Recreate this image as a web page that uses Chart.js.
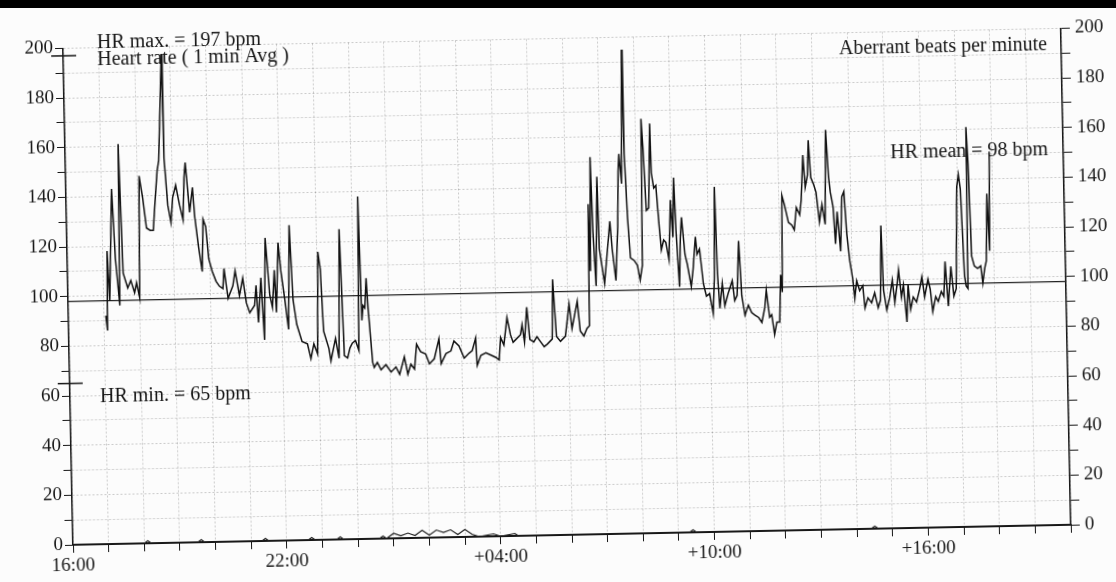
<!DOCTYPE html>
<html>
<head>
<meta charset="utf-8">
<script src="https://cdn.jsdelivr.net/npm/chart.js@4.4.0/dist/chart.umd.min.js"></script>
<style>
  html, body { margin: 0; padding: 0; width: 1116px; height: 582px; overflow: hidden; background: #fcfcfc; }
  #chart { position: absolute; left: -32px; top: -29px; background: #fcfcfc; transform: rotate(-1.15deg); }
  .scan-edge { position: absolute; left: 0; top: 0; width: 1116px; height: 8px; background: #000; z-index: 2; }
</style>
</head>
<body>
<div class="scan-edge"></div>
<canvas id="chart" width="1180" height="640"></canvas>
<script>
// hours after 16:00, heart rate (1 min avg) in bpm
const eveningHours = [1.05, 1.09, 1.12, 1.17, 1.28, 1.35, 1.45, 1.49, 1.56, 1.68, 1.77, 1.87, 1.93, 2.01, 2.06, 2.15, 2.24, 2.34, 2.43, 2.48, 2.57, 2.62, 2.75, 2.77, 2.85, 2.93, 2.99, 3.08, 3.18, 3.27, 3.32, 3.36, 3.46, 3.55, 3.60, 3.69, 3.78, 3.83, 3.90, 3.97, 4.06, 4.16, 4.25, 4.35, 4.39, 4.49, 4.63, 4.70, 4.81, 4.91, 5.00, 5.09, 5.23, 5.28, 5.33, 5.42, 5.49, 5.56, 5.66, 5.73, 5.80, 5.84, 5.92, 5.98, 6.08, 6.17, 6.24, 6.31, 6.40, 6.54, 6.69, 6.78, 6.87, 6.97, 7.03, 7.09, 7.15, 7.29, 7.34, 7.48, 7.57, 7.64, 7.68, 7.72, 7.81, 7.88, 7.95, 8.04, 8.13, 8.18, 8.23, 8.27, 8.32, 8.37, 8.41];
const eveningHr = [92, 86, 118, 98, 143, 115, 96, 161, 109, 103, 106, 101, 105, 99, 148, 139, 127, 126, 126, 135, 150, 154, 197, 155, 136, 129, 139, 144, 136, 130, 147, 153, 133, 143, 131, 119, 109, 130, 127, 114, 109, 105, 103, 102, 110, 98, 103, 109, 99, 106, 96, 92, 95, 103, 88, 106, 81, 122, 99, 94, 109, 92, 120, 109, 97, 85, 127, 97, 87, 80, 79, 73, 79, 75, 116, 109, 84, 77, 72, 81, 73, 125, 99, 74, 73, 77, 79, 80, 76, 138, 88, 94, 93, 105, 93];

const nightHours = [8.51, 8.55, 8.64, 8.74, 8.88, 9.02, 9.16, 9.26, 9.40, 9.49, 9.58, 9.68, 9.75, 9.86, 10.00, 10.10, 10.24, 10.38, 10.43, 10.57, 10.71, 10.80, 10.94, 11.08, 11.22, 11.31, 11.41, 11.44, 11.55, 11.69, 11.83, 11.97, 12.06, 12.11, 12.20, 12.30, 12.39, 12.46, 12.53, 12.67, 12.72, 12.78, 12.86, 12.93, 13.04, 13.13, 13.23, 13.33, 13.42, 13.56, 13.60, 13.68, 13.79, 13.93, 14.05, 14.12, 14.28, 14.35, 14.45, 14.54, 14.61];
const nightHr = [71, 69, 71, 68, 70, 67, 69, 66, 73, 66, 70, 68, 78, 75, 74, 70, 72, 80, 70, 74, 75, 79, 77, 72, 74, 75, 80, 69, 73, 74, 73, 72, 71, 80, 77, 88, 81, 78, 79, 81, 85, 78, 92, 79, 78, 80, 78, 76, 77, 79, 103, 80, 78, 80, 93, 83, 94, 82, 80, 83, 84];

const morningHours = [14.64, 14.67, 14.72, 14.76, 14.82, 14.90, 14.93, 15.06, 15.24, 15.29, 15.38, 15.46, 15.50, 15.53, 15.59, 15.66, 15.68, 15.74, 15.80, 15.90, 15.99, 16.06, 16.13, 16.17, 16.21, 16.27, 16.34, 16.41, 16.43, 16.49, 16.55, 16.62, 16.67, 16.74, 16.80, 16.88, 16.95, 17.00, 17.05, 17.09, 17.16, 17.21, 17.25, 17.33, 17.39, 17.49, 17.55, 17.63, 17.67, 17.74, 17.83, 17.91, 18.00, 18.09, 18.14, 18.19, 18.23, 18.28, 18.36, 18.42, 18.52, 18.64, 18.70, 18.77, 18.84, 18.90, 18.98, 19.08, 19.17, 19.26, 19.36, 19.45, 19.54, 19.59, 19.67, 19.73, 19.80, 19.87, 19.95, 20.00, 20.04, 20.08];
const morningHr = [133, 106, 152, 122, 100, 144, 115, 101, 126, 115, 102, 124, 146, 153, 141, 195, 153, 127, 111, 110, 108, 102, 108, 167, 155, 130, 131, 165, 145, 139, 140, 124, 114, 118, 117, 110, 134, 119, 143, 122, 99, 119, 127, 112, 108, 99, 106, 119, 112, 114, 100, 95, 96, 88, 102, 139, 104, 90, 100, 91, 96, 101, 93, 95, 117, 95, 87, 91, 88, 87, 86, 84, 90, 97, 86, 87, 79, 84, 84, 103, 96, 135];

const afternoonHours = [20.15, 20.25, 20.34, 20.41, 20.48, 20.57, 20.62, 20.69, 20.74, 20.81, 20.85, 20.90, 20.98, 21.04, 21.12, 21.20, 21.28, 21.34, 21.40, 21.44, 21.51, 21.56, 21.62, 21.70, 21.76, 21.82, 21.88, 21.95, 22.02, 22.07, 22.13, 22.21, 22.30, 22.35, 22.44, 22.54, 22.63, 22.72, 22.79, 22.84, 22.88, 22.96, 23.05, 23.13, 23.19, 23.26, 23.31, 23.38, 23.44, 23.52, 23.57, 23.63, 23.71, 23.80, 23.89, 23.96, 24.03, 24.13, 24.19, 24.25, 24.34, 24.41, 24.50, 24.57, 24.62, 24.69, 24.78, 24.85, 24.92, 24.99, 25.04, 25.09, 25.16, 25.20, 25.25, 25.28, 25.32, 25.37, 25.44, 25.53, 25.62, 25.67, 25.73, 25.78, 25.83, 25.88, 25.92];
const afternoonHr = [131, 124, 123, 121, 130, 127, 133, 151, 138, 143, 157, 142, 139, 136, 124, 131, 123, 161, 142, 136, 130, 115, 128, 112, 134, 136, 119, 108, 101, 93, 100, 96, 98, 89, 93, 91, 95, 89, 92, 122, 96, 88, 93, 100, 91, 98, 104, 93, 98, 83, 98, 88, 93, 91, 96, 101, 93, 100, 96, 87, 93, 91, 95, 93, 107, 89, 105, 93, 96, 137, 142, 136, 101, 97, 96, 161, 146, 109, 105, 104, 105, 98, 104, 107, 134, 111, 151];

// aberrant beats per minute (right axis)
const aberrantHours = [0, 2.0, 2.1, 2.2, 3.5, 3.6, 3.7, 5.3, 5.4, 5.5, 6.6, 6.7, 6.8, 7.4, 7.5, 7.6, 8.6, 8.7, 8.8, 9.0, 9.2, 9.4, 9.6, 9.8, 10.0, 10.2, 10.4, 10.6, 10.8, 11.0, 11.2, 11.4, 11.8, 12.0, 12.4, 12.5, 17.3, 17.4, 17.5, 22.4, 22.5, 22.6, 28];
const aberrantCount = [0, 0, 1, 0, 0, 1, 0, 0, 1, 0, 0, 1, 0, 0, 1, 0, 0, 1, 0, 2, 1, 2, 1, 3, 1, 3, 2, 3, 1, 3, 1, 0, 1, 0, 1, 0, 0, 1, 0, 0, 1, 0, 0];

const hrMax = 197;
const hrMin = 65;
const hrMean = 98;

const tickHours = [0, 6, 12, 18, 24];
const tickLabels = ['16:00', '22:00', '+04:00', '+10:00', '+16:00'];

const toPoints = (xs, ys) => xs.map((x, i) => ({ x: x, y: ys[i] }));

const hrPoints = [].concat(
  toPoints(eveningHours, eveningHr),
  toPoints(nightHours, nightHr),
  toPoints(morningHours, morningHr),
  toPoints(afternoonHours, afternoonHr)
);

const serif = '"Liberation Serif", "DejaVu Serif", serif';
const ink = '#161616';
const gridColor = 'rgba(0, 0, 0, 0.2)';

const yLabel = (v) => (v % 20 === 0 ? v : '');

const markersAndText = {
  id: 'markersAndText',
  afterDraw(chart) {
    const { ctx, chartArea } = chart;
    const y = chart.scales.y;
    const left = chartArea.left;

    ctx.save();
    ctx.strokeStyle = ink;
    ctx.lineWidth = 1.5;
    [hrMax, hrMin].forEach((v) => {
      const py = y.getPixelForValue(v);
      ctx.beginPath();
      ctx.moveTo(left - 12, py);
      ctx.lineTo(left + 13, py);
      ctx.stroke();
    });

    ctx.fillStyle = ink;
    ctx.font = '20px ' + serif;
    ctx.textBaseline = 'middle';
    ctx.textAlign = 'left';
    ctx.fillText('HR max. = ' + hrMax + ' bpm', left + 34, chartArea.top - 5);
    ctx.fillText('Heart rate ( 1 min Avg )', left + 34, chartArea.top + 12);
    ctx.fillText('HR min. = ' + hrMin + ' bpm', left + 30, y.getPixelForValue(59.5));
    ctx.fillText('HR mean = ' + hrMean + ' bpm', chartArea.right - 173, y.getPixelForValue(151));
    ctx.textAlign = 'right';
    ctx.fillText('Aberrant beats per minute', chartArea.right - 14, y.getPixelForValue(193.5));
    ctx.restore();
  },
};

new Chart(document.getElementById('chart'), {
  type: 'line',
  data: {
    datasets: [
      {
        label: 'Heart rate',
        data: hrPoints,
        borderColor: '#111',
        borderWidth: 1.5,
        pointRadius: 0,
        tension: 0,
        yAxisID: 'y',
      },
      {
        label: 'HR mean',
        data: [{ x: 0, y: hrMean }, { x: 28, y: hrMean }],
        borderColor: '#222',
        borderWidth: 1.2,
        pointRadius: 0,
        yAxisID: 'y',
      },
      {
        label: 'Aberrant beats',
        data: toPoints(aberrantHours, aberrantCount),
        borderColor: '#222',
        borderWidth: 1.2,
        pointRadius: 0,
        yAxisID: 'y2',
      },
    ],
  },
  options: {
    responsive: false,
    animation: false,
    events: [],
    layout: { padding: { top: 67.5, left: 0, right: 0, bottom: 0 } },
    plugins: {
      legend: { display: false },
      tooltip: { enabled: false },
    },
    scales: {
      x: {
        type: 'linear',
        min: 0,
        max: 28,
        afterFit(scale) {
          scale.height = 76;
        },
        ticks: {
          stepSize: 1,
          autoSkip: false,
          maxRotation: 0,
          minRotation: 0,
          padding: 2,
          color: ink,
          font: { family: serif, size: 19 },
          callback: (v) => {
            const i = tickHours.indexOf(v);
            return i >= 0 ? tickLabels[i] : '';
          },
        },
        grid: {
          color: gridColor,
          tickColor: ink,
          tickLength: 8,
          lineWidth: 1,
        },
        border: { color: ink, width: 2, dash: [2, 2] },
      },
      y: {
        position: 'left',
        min: 0,
        max: 200,
        afterFit(scale) {
          scale.width = 100;
        },
        ticks: {
          stepSize: 10,
          autoSkip: false,
          padding: 2,
          color: ink,
          font: { family: serif, size: 19 },
          callback: yLabel,
        },
        grid: {
          color: gridColor,
          tickColor: ink,
          tickLength: 8,
          lineWidth: 1,
        },
        border: { color: ink, width: 1.5, dash: [2, 2] },
      },
      y2: {
        position: 'right',
        min: 0,
        max: 200,
        afterFit(scale) {
          scale.width = 82;
        },
        ticks: {
          stepSize: 10,
          autoSkip: false,
          padding: 5,
          color: ink,
          font: { family: serif, size: 19 },
          callback: yLabel,
        },
        grid: {
          drawOnChartArea: false,
          tickColor: ink,
          tickLength: 9,
        },
        border: { color: ink, width: 1.5 },
      },
    },
  },
  plugins: [markersAndText],
});
</script>
</body>
</html>
